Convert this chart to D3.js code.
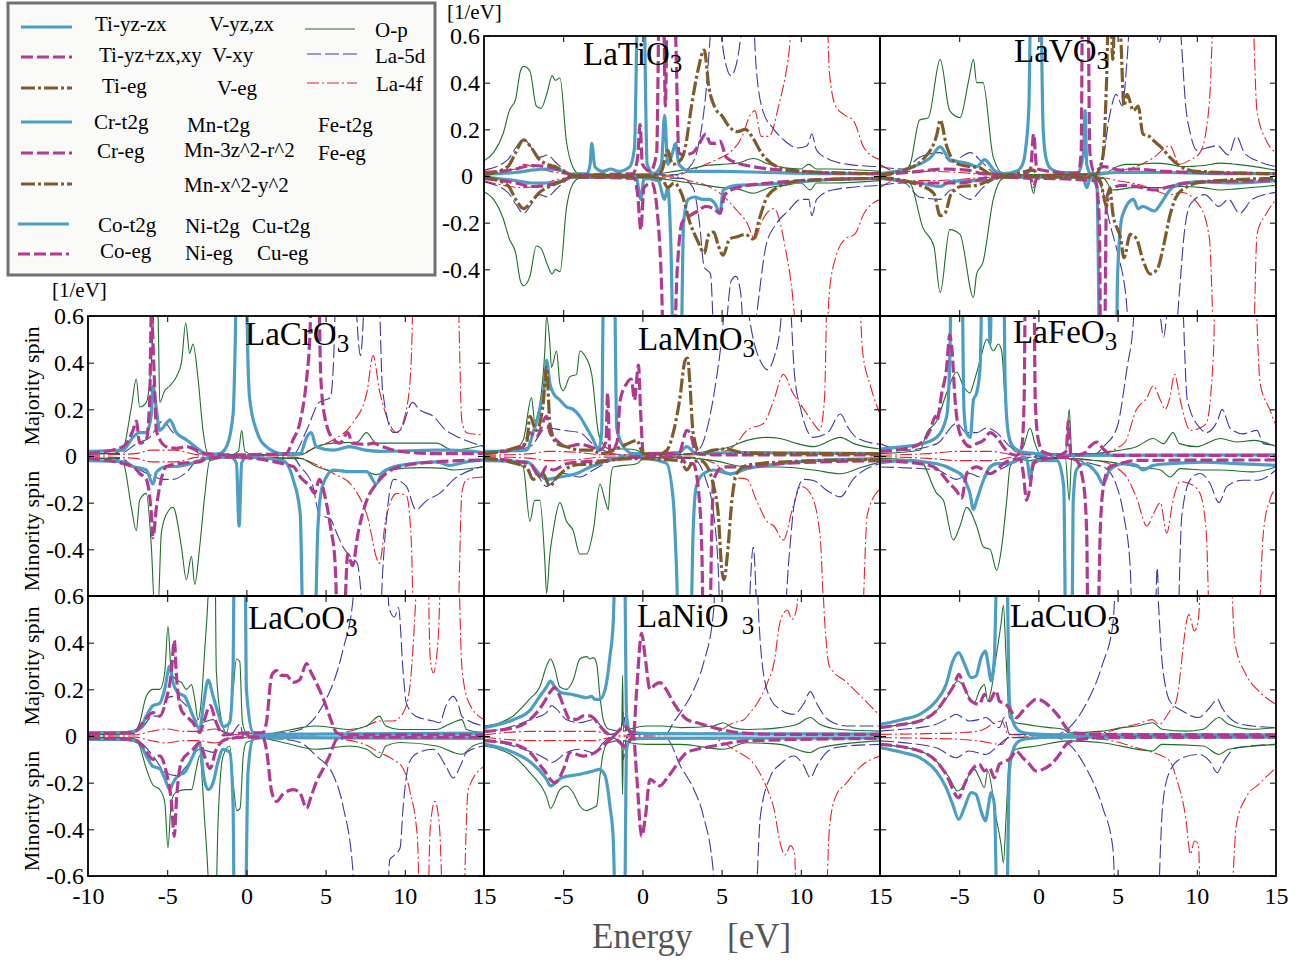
<!DOCTYPE html>
<html>
<head>
<meta charset="utf-8">
<script src="https://cdnjs.cloudflare.com/ajax/libs/d3/7.8.5/d3.min.js"></script>
<style>
  body { margin: 0; background: #fff; }
  svg text { font-family: "Liberation Serif", "Times New Roman", serif; }
</style>
</head>
<body>
<svg id="chart" width="1304" height="962"></svg>
<script>
// ---- values: [energy eV, DOS 1/eV]; minority spin stored negative ----
var energyTicks = [-10, -5, 0, 5, 10, 15];
var dosTicks = [0.6, 0.4, 0.2, 0, -0.2, -0.4, -0.6];

// LaTiO3
var tiOpUp = [[-10,0.065],[-9.4,0.1],[-8.8,0.18],[-8.4,0.28],[-8,0.33],[-7.7,0.45],[-7.5,0.47],[-7.1,0.45],[-6.7,0.3],[-6.4,0.29],[-6,0.36],[-5.7,0.43],[-5.5,0.41],[-5.2,0.42],[-4.8,0.15],[-4.4,0.04],[-4,0.01],[-2,0.006],[0,0.008],[1,0.01],[2,0.02],[3,0.03],[4,0.045],[5,0.05],[6,0.055],[7,0.075],[8,0.05],[9,0.035],[10,0.03],[10.5,0.05],[11,0.03],[12,0.03],[15,0.02]];
var tiOpDn = [[-10,-0.067],[-9.4,-0.1],[-8.8,-0.18],[-8.4,-0.27],[-8,-0.33],[-7.7,-0.45],[-7.5,-0.47],[-7.1,-0.43],[-6.7,-0.3],[-6.4,-0.31],[-6,-0.38],[-5.7,-0.42],[-5.5,-0.4],[-5.2,-0.41],[-4.8,-0.14],[-4.4,-0.035],[-4,-0.01],[-2,-0.006],[0,-0.008],[1,-0.01],[2,-0.02],[3,-0.03],[4,-0.04],[5,-0.05],[6,-0.055],[7,-0.074],[8,-0.05],[9,-0.04],[10,-0.03],[10.6,-0.06],[11,-0.03],[12,-0.03],[15,-0.02]];
var tiLa5dUp = [[-10,0.025],[-8.5,0.07],[-8,0.12],[-7.5,0.16],[-7,0.12],[-6.5,0.08],[-6,0.09],[-5.5,0.06],[-5,0.03],[-4.5,0.005],[2,0.005],[3,0.04],[3.5,0.12],[4,0.35],[4.4,0.7],[4.7,0.9],[5,0.6],[5.3,0.47],[5.6,0.43],[6,0.5],[6.4,0.7],[6.8,0.9],[7.2,0.45],[7.6,0.28],[8.3,0.2],[9,0.15],[9.8,0.12],[10.4,0.13],[10.7,0.18],[11,0.11],[12,0.065],[13,0.05],[15,0.04]];
var tiLa5dDn = [[-10,-0.025],[-8.5,-0.07],[-8,-0.12],[-7.5,-0.16],[-7,-0.12],[-6.5,-0.08],[-6,-0.09],[-5.5,-0.06],[-5,-0.03],[-4.5,-0.005],[2.5,-0.01],[3.2,-0.05],[3.6,-0.2],[3.9,-0.39],[4.3,-0.42],[4.6,-0.8],[5.2,-0.7],[5.6,-0.45],[5.9,-0.43],[6.2,-0.5],[6.6,-0.9],[7.2,-0.6],[7.8,-0.3],[8.4,-0.21],[9.2,-0.15],[10,-0.1],[10.5,-0.1],[10.7,-0.17],[11,-0.1],[12,-0.06],[15,-0.04]];
var tiLa4fUp = [[-10,0.02],[-8,0.03],[-7.5,0.05],[-6.5,0.03],[-5,0.01],[-4,0.003],[2,0.003],[3,0.02],[4,0.05],[5,0.08],[5.5,0.1],[6.3,0.17],[6.8,0.26],[7.1,0.28],[7.5,0.17],[8,0.17],[8.6,0.3],[9.2,0.5],[9.7,0.8],[11.6,0.8],[11.8,0.45],[12.2,0.3],[12.8,0.26],[13.3,0.24],[14,0.12],[15,0.07]];
var tiLa4fDn = [[-10,-0.02],[-7.5,-0.05],[-5,-0.01],[-4,-0.003],[2,-0.003],[3,-0.02],[4,-0.04],[5,-0.08],[6,-0.15],[6.6,-0.2],[7.1,-0.27],[7.5,-0.2],[8.3,-0.14],[9,-0.3],[9.6,-0.6],[9.9,-0.9],[11.5,-0.9],[11.8,-0.5],[12.2,-0.35],[12.8,-0.27],[13.4,-0.25],[14,-0.16],[15,-0.1]];
var tiD1Up = [[-10,0.008],[-8,0.015],[-7,0.025],[-6,0.03],[-5,0.02],[-4.5,0.008],[-3.5,0.01],[-3.3,0.05],[-3.2,0.14],[-3,0.04],[-2.5,0.02],[-2,0.03],[-1.5,0.02],[-0.8,0.04],[-0.5,0.12],[-0.25,0.9],[0.05,0.9],[0.3,0.05],[0.7,0.01],[1.2,0.05],[1.4,0.26],[1.6,0.05],[1.9,0.1],[2.1,0.14],[2.3,0.05],[3,0.02],[5,0.02],[8,0.015],[12,0.01],[15,0.01]];
var tiD1Dn = [[-10,-0.005],[-8,-0.02],[-7,-0.03],[-6,-0.03],[-5,-0.02],[-4.5,-0.005],[-0.4,-0.005],[-0.1,-0.1],[0.1,-0.01],[1,-0.02],[1.4,-0.1],[1.6,-0.05],[1.8,-0.3],[2,-0.9],[2.4,-0.9],[2.6,-0.2],[2.9,-0.1],[3.3,-0.09],[3.8,-0.1],[4.2,-0.1],[4.6,-0.12],[4.9,-0.16],[5.1,-0.06],[6,-0.04],[8,-0.035],[10,-0.025],[12,-0.015],[15,-0.01]];
var tiD2Up = [[-10,0.01],[-8,0.03],[-7,0.045],[-6,0.04],[-5,0.02],[-4.5,0.005],[-0.6,0.01],[-0.3,0.08],[-0.15,0.22],[0,0.05],[0.5,0.02],[0.9,0.1],[1.1,0.9],[1.3,0.9],[1.45,0.3],[1.6,0.9],[1.9,0.9],[2.1,0.6],[2.3,0.1],[2.6,0.09],[3.2,0.1],[3.6,0.14],[4,0.18],[4.3,0.14],[4.6,0.14],[4.9,0.15],[5.3,0.08],[6,0.055],[7,0.04],[8,0.03],[10,0.02],[12,0.012],[15,0.01]];
var tiD2Dn = [[-10,-0.01],[-8,-0.03],[-7,-0.045],[-6,-0.04],[-5,-0.02],[-4.5,-0.005],[-0.5,-0.01],[-0.3,-0.08],[-0.1,-0.23],[0.1,-0.05],[0.6,-0.03],[1,-0.2],[1.2,-0.45],[1.4,-0.9],[1.9,-0.9],[2.2,-0.4],[2.5,-0.2],[3,-0.17],[3.5,-0.15],[4,-0.13],[4.5,-0.14],[4.9,-0.16],[5.2,-0.08],[6,-0.05],[8,-0.03],[10,-0.02],[15,-0.01]];
var tiD3Up = [[-10,0.005],[-8.5,0.04],[-8,0.1],[-7.5,0.155],[-7,0.12],[-6.5,0.07],[-6,0.05],[-5.5,0.04],[-5,0.02],[-4.5,0.003],[0.5,0.003],[1.2,0.02],[1.6,0.11],[1.9,0.05],[2.3,0.06],[2.7,0.12],[3.1,0.3],[3.5,0.45],[3.9,0.54],[4.2,0.38],[4.6,0.29],[5,0.26],[5.5,0.21],[6,0.19],[6.5,0.2],[7,0.16],[7.5,0.1],[8.5,0.04],[10,0.02],[15,0.01]];
var tiD3Dn = [[-10,-0.005],[-8.5,-0.04],[-8,-0.1],[-7.5,-0.14],[-7,-0.11],[-6.5,-0.07],[-6,-0.05],[-5,-0.02],[-4.5,-0.003],[0.5,-0.003],[1.3,-0.02],[1.6,-0.05],[2,-0.03],[2.5,-0.08],[3,-0.2],[3.5,-0.28],[3.9,-0.33],[4.2,-0.25],[4.5,-0.24],[4.8,-0.3],[5.1,-0.34],[5.5,-0.27],[6,-0.26],[6.5,-0.25],[7,-0.27],[7.4,-0.18],[7.8,-0.1],[8.5,-0.05],[10,-0.02],[15,-0.01]];

// LaVO3
var vOpUp = [[-10,0.01],[-8.6,0.015],[-8.1,0.05],[-7.5,0.24],[-6.95,0.25],[-6.2,0.5],[-5.6,0.28],[-4.95,0.25],[-4.4,0.41],[-4.1,0.5],[-3.9,0.4],[-3.5,0.4],[-2.85,0.08],[-2.2,0.01],[-1,0.005],[4.1,0.01],[4.95,0.04],[5.5,0.05],[6.2,0.05],[7.3,0.055],[8.3,0.05],[9.15,0.04],[10.4,0.045],[11.5,0.055],[12.5,0.05],[15,0.025]];
var vOpDn = [[-10,-0.01],[-8.6,-0.015],[-8.1,-0.03],[-7.3,-0.22],[-6.6,-0.3],[-6.2,-0.5],[-5.6,-0.23],[-4.95,-0.25],[-4.1,-0.52],[-3.9,-0.42],[-3.5,-0.37],[-2.85,-0.1],[-2.2,-0.01],[-0.6,-0.005],[-0.3,-0.075],[-0.1,-0.005],[4.1,-0.01],[4.7,-0.06],[6,-0.05],[8,-0.05],[9,-0.045],[10.4,-0.05],[11.5,-0.06],[12.5,-0.055],[15,-0.04]];
var vLa5dUp = [[-10,0.04],[-8.5,0.03],[-7.5,0.08],[-6.2,0.1],[-5.5,0.06],[-4.3,0.1],[-3.5,0.055],[-2.7,0.01],[-2,0.003],[3.5,0.01],[4,0.05],[4.5,0.26],[4.9,0.35],[5.3,0.3],[5.6,0.5],[6,0.9],[7.2,0.8],[7.6,0.57],[8,0.7],[8.6,0.9],[9,0.6],[9.3,0.3],[9.6,0.18],[10,0.11],[10.6,0.12],[11.3,0.13],[12,0.09],[12.5,0.17],[13,0.1],[14,0.06],[15,0.04]];
var vLa5dDn = [[-10,-0.04],[-8.5,-0.03],[-7.5,-0.09],[-6.2,-0.1],[-5.5,-0.06],[-4.3,-0.1],[-3.5,-0.05],[-2.7,-0.01],[-2,-0.003],[3.5,-0.01],[4,-0.05],[4.5,-0.2],[5,-0.33],[5.5,-0.5],[6,-0.9],[8.4,-0.9],[8.9,-0.5],[9.2,-0.25],[9.6,-0.12],[10.5,-0.08],[11.4,-0.13],[12,-0.1],[12.7,-0.16],[13.5,-0.1],[15,-0.07]];
var vLa4fUp = [[-10,0.05],[-9,0.02],[-7,0.02],[-5,0.015],[-3,0.005],[3.5,0.003],[5,0.02],[6.5,0.05],[7.3,0.08],[8.3,0.13],[8.9,0.05],[9.6,0.07],[10.2,0.1],[10.6,0.2],[10.8,0.32],[11.2,0.9],[13.4,0.9],[13.8,0.28],[14.4,0.15],[15,0.1]];
var vLa4fDn = [[-10,-0.05],[-9,-0.02],[-7,-0.02],[-5,-0.015],[-3,-0.005],[3.5,-0.003],[5,-0.02],[6.5,-0.04],[7.3,-0.06],[8.3,-0.08],[9,-0.07],[10.2,-0.13],[10.8,-0.27],[11.2,-0.9],[13.5,-0.9],[13.8,-0.25],[14.4,-0.16],[15,-0.1]];
var vD1Up = [[-10,0.01],[-7.9,0.04],[-6.8,0.08],[-6.2,0.125],[-5.6,0.07],[-4.5,0.055],[-3.9,0.04],[-3.4,0.07],[-2.8,0.025],[-2.2,0.01],[-1.4,0.02],[-1,0.05],[-0.8,0.12],[-0.6,0.3],[-0.45,0.9],[0.1,0.9],[0.3,0.2],[0.5,0.07],[0.8,0.03],[1.5,0.015],[2.5,0.015],[2.85,0.1],[2.95,0.28],[3.05,0.05],[3.3,0.01],[5,0.015],[8,0.015],[12,0.01],[15,0.01]];
var vD1Dn = [[-10,-0.01],[-7.5,-0.03],[-6.2,-0.045],[-5.6,-0.025],[-4.5,-0.02],[-3.3,-0.02],[-2.5,-0.005],[2.8,-0.005],[3.05,-0.05],[3.3,-0.005],[3.7,-0.05],[3.9,-0.9],[4.9,-0.9],[5,-0.42],[5.3,-0.17],[6,-0.1],[6.3,-0.14],[6.6,-0.13],[7.3,-0.15],[7.9,-0.1],[8.3,-0.06],[9.1,-0.03],[10.4,-0.025],[12.5,-0.03],[15,-0.02]];
var vD2Up = [[-10,0.005],[-7.5,0.02],[-6,0.03],[-4.5,0.025],[-3.5,0.01],[-1,0.005],[-0.5,0.03],[-0.3,0.18],[-0.1,0.03],[2.5,0.01],[2.7,0.1],[2.8,0.9],[3.1,0.9],[3.25,0.1],[3.5,0.02],[4.1,0.04],[5.2,0.025],[6,0.03],[8,0.02],[10,0.015],[15,0.01]];
var vD2Dn = [[-10,-0.005],[-7.5,-0.03],[-5,-0.03],[-4,-0.02],[-3,-0.005],[-0.5,-0.01],[-0.3,-0.045],[-0.1,-0.01],[3.6,-0.02],[3.85,-0.2],[3.95,-0.9],[4.15,-0.9],[4.3,-0.1],[4.5,-0.06],[5.3,-0.04],[6.2,-0.045],[7.3,-0.06],[8.3,-0.045],[9.4,-0.03],[10.4,-0.025],[15,-0.02]];
var vD3Up = [[-10,0.005],[-7.9,0.04],[-7.3,0.07],[-6.4,0.18],[-6.2,0.24],[-5.8,0.13],[-5.2,0.055],[-4.3,0.04],[-3.7,0.035],[-3.1,0.01],[-2,0.003],[-0.3,0.025],[0,0.003],[3.6,0.005],[3.9,0.04],[4.1,0.1],[4.3,0.4],[4.5,0.9],[4.7,0.5],[4.9,0.9],[5.2,0.6],[5.4,0.3],[5.6,0.35],[6,0.28],[6.3,0.3],[6.6,0.18],[7,0.17],[7.3,0.15],[7.8,0.12],[8.3,0.08],[9,0.04],[10,0.02],[15,0.01]];
var vD3Dn = [[-10,-0.005],[-7.3,-0.045],[-6.6,-0.075],[-6.2,-0.17],[-5.9,-0.16],[-5.5,-0.075],[-4.9,-0.045],[-3.9,-0.04],[-3.3,-0.025],[-2.7,-0.01],[-2,-0.003],[3.6,-0.005],[3.9,-0.02],[4.3,-0.13],[4.5,-0.05],[4.7,-0.16],[5.2,-0.27],[5.4,-0.35],[5.8,-0.25],[6.2,-0.27],[6.6,-0.36],[7.05,-0.42],[7.5,-0.4],[7.9,-0.3],[8.3,-0.17],[8.7,-0.09],[9.4,-0.045],[10.4,-0.025],[15,-0.01]];

// LaCrO3
var crOpUp = [[-10,0.01],[-8.5,0.01],[-7.8,0.03],[-7.26,0.21],[-6.95,0.33],[-6.74,0.21],[-6.32,0.23],[-6,0.4],[-5.79,0.65],[-5.58,0.6],[-5.47,0.23],[-5.16,0.28],[-4.84,0.3],[-4.42,0.34],[-4.1,0.4],[-3.83,0.57],[-3.58,0.44],[-3.37,0.48],[-3.05,0.33],[-2.74,0.11],[-2.42,0.01],[-1,0.005],[-0.5,0.02],[-0.3,0.11],[-0.1,0.02],[0.5,0.005],[3.4,0.005],[4.42,0.04],[5.5,0.055],[7,0.06],[7.58,0.1],[8.2,0.055],[10,0.055],[12,0.055],[13.05,0.025],[15,0.047]];
var crOpDn = [[-10,-0.01],[-8.5,-0.01],[-7.8,-0.025],[-7.26,-0.22],[-6.95,-0.32],[-6.74,-0.19],[-6.32,-0.16],[-6,-0.39],[-5.79,-0.65],[-5.58,-0.65],[-5.37,-0.33],[-5.05,-0.25],[-4.63,-0.22],[-4.1,-0.39],[-3.79,-0.53],[-3.47,-0.43],[-3.26,-0.55],[-2.95,-0.39],[-2.63,-0.17],[-2.32,-0.02],[-1,-0.005],[-0.3,-0.01],[3.4,-0.01],[4.42,-0.045],[5.5,-0.065],[7.58,-0.067],[8.2,-0.08],[9,-0.06],[11,-0.05],[12.5,-0.053],[13.05,-0.06],[15,-0.045]];
var crLa5dUp = [[-10,0.01],[-8,0.01],[-7,0.05],[-6.1,0.08],[-5.26,0.15],[-4.63,0.1],[-3.79,0.07],[-2.95,0.01],[-2,0.003],[2.5,0.005],[3,0.01],[3.8,0.11],[4.6,0.23],[5.3,0.25],[5.5,0.4],[5.7,0.8],[6.7,0.8],[7.2,0.43],[7.6,0.8],[8.3,0.8],[8.6,0.28],[9.3,0.1],[9.7,0.11],[10.5,0.23],[10.9,0.2],[11.8,0.17],[12.6,0.11],[13.1,0.09],[15,0.04]];
var crLa5dDn = [[-10,-0.01],[-8,-0.01],[-7,-0.05],[-6.1,-0.08],[-5.26,-0.1],[-4.63,-0.1],[-3.79,-0.07],[-2.95,-0.01],[-2,-0.003],[3,-0.01],[3.4,-0.045],[4.2,-0.13],[4.6,-0.25],[5.3,-0.27],[5.7,-0.33],[6.1,-0.39],[6.7,-0.44],[7,-0.46],[7.6,-0.8],[8.4,-0.8],[8.6,-0.5],[9.3,-0.1],[10.1,-0.13],[10.7,-0.23],[11.4,-0.19],[12.2,-0.16],[13.1,-0.1],[15,-0.045]];
var crLa4fUp = [[-10,0.003],[-7,0.01],[-6,0.025],[-4.5,0.025],[-3,0.005],[3,0.005],[4.5,0.04],[5.5,0.07],[6.7,0.14],[7.6,0.27],[8,0.43],[8.4,0.28],[8.8,0.18],[9.5,0.1],[10.1,0.2],[10.4,0.4],[10.6,0.8],[13.3,0.8],[13.6,0.15],[13.9,0.1],[15,0.09]];
var crLa4fDn = [[-10,-0.003],[-7,-0.01],[-6,-0.025],[-4.5,-0.025],[-3,-0.005],[3,-0.005],[4.5,-0.04],[5.5,-0.075],[6.7,-0.13],[7.6,-0.25],[8.4,-0.46],[8.8,-0.27],[9.5,-0.16],[10.1,-0.17],[10.4,-0.35],[10.6,-0.8],[13.3,-0.8],[13.6,-0.16],[13.9,-0.1],[15,-0.09]];
var crD1Up = [[-10,0.02],[-7.8,0.025],[-7.16,0.08],[-6.74,0.1],[-6.32,0.1],[-6,0.18],[-5.9,0.3],[-5.68,0.2],[-5.47,0.11],[-5.05,0.14],[-4.84,0.155],[-4.42,0.1],[-3.79,0.07],[-2.95,0.025],[-2.5,0.005],[-1.7,0.01],[-1.26,0.04],[-0.84,0.18],[-0.7,0.5],[-0.6,0.9],[-0.05,0.9],[0.1,0.4],[0.2,0.25],[0.63,0.11],[1.26,0.04],[2.3,0.01],[3.4,0.01],[3.8,0.08],[4.1,0.1],[4.4,0.04],[5.5,0.025],[6.5,0.04],[7.5,0.025],[8.5,0.02],[12,0.025],[12.8,0.025],[15,0.015]];
var crD1Dn = [[-10,-0.02],[-7.8,-0.025],[-7.16,-0.045],[-6.32,-0.06],[-5.9,-0.12],[-5.68,-0.07],[-5.05,-0.045],[-4.42,-0.045],[-3.37,-0.03],[-2.5,-0.01],[-1,-0.005],[-0.63,-0.03],[-0.46,-0.3],[-0.3,-0.03],[0,-0.005],[2.3,-0.02],[2.95,-0.1],[3.4,-0.25],[3.6,-0.8],[4.3,-0.8],[4.5,-0.33],[4.7,-0.16],[5.05,-0.09],[5.5,-0.06],[6.5,-0.067],[7.6,-0.067],[8.2,-0.12],[8.6,-0.07],[9.7,-0.04],[12,-0.025],[12.8,-0.04],[13.9,-0.025],[15,-0.017]];
var crD2Up = [[-10,0.01],[-7.8,0.04],[-7.16,0.11],[-6.95,0.15],[-6.74,0.055],[-6.32,0.07],[-6.1,0.25],[-6,0.62],[-5.85,0.4],[-5.68,0.11],[-5.47,0.07],[-5.05,0.04],[-4.42,0.033],[-3.79,0.04],[-3.16,0.025],[-2.5,0.01],[-1,0.005],[2.5,0.01],[2.95,0.07],[3.4,0.15],[3.8,0.33],[4,0.5],[4.2,0.9],[4.5,0.9],[4.7,0.33],[5,0.15],[5.5,0.07],[5.9,0.055],[6.4,0.1],[6.7,0.055],[7.6,0.05],[8,0.055],[8.6,0.04],[9.7,0.02],[12,0.01],[15,0.01]];
var crD2Dn = [[-10,-0.01],[-7.16,-0.045],[-6.74,-0.075],[-6.32,-0.1],[-6,-0.25],[-5.9,-0.35],[-5.68,-0.22],[-5.47,-0.13],[-5.05,-0.045],[-4,-0.03],[-2.95,-0.025],[-2.5,-0.01],[-1,-0.005],[2.95,-0.045],[3.4,-0.09],[4,-0.13],[4.3,-0.16],[4.6,-0.1],[4.95,-0.17],[5.3,-0.3],[5.6,-0.46],[5.8,-0.8],[6.1,-0.8],[6.4,-0.42],[6.7,-0.47],[7.05,-0.33],[7.6,-0.19],[8.2,-0.12],[8.8,-0.075],[9.7,-0.045],[12,-0.025],[15,-0.017]];

// LaMnO3
var mnOpUp = [[-10,0.015],[-8.16,0.025],[-7.53,0.067],[-7,0.25],[-6.8,0.15],[-6.48,0.22],[-6.16,0.45],[-6.05,0.6],[-5.84,0.48],[-5.74,0.38],[-5.42,0.45],[-5.21,0.31],[-5,0.28],[-4.58,0.34],[-4.16,0.35],[-3.95,0.45],[-3.63,0.43],[-3.2,0.35],[-2.78,0.1],[-2.47,0.05],[-2.05,0.03],[-0.99,0.03],[-0.36,0.025],[0.06,0.01],[2,0.005],[4.5,0.025],[5.55,0.04],[6.6,0.067],[7.87,0.08],[8.7,0.075],[9.77,0.053],[10.8,0.04],[12.5,0.08],[13.35,0.053],[15,0.03]];
var mnOpDn = [[-10,-0.015],[-8.16,-0.025],[-7.53,-0.047],[-7.1,-0.28],[-6.8,-0.19],[-6.48,-0.19],[-6.16,-0.45],[-6.05,-0.59],[-5.84,-0.42],[-5.63,-0.32],[-5.21,-0.2],[-4.79,-0.28],[-4.37,-0.32],[-3.95,-0.42],[-3.52,-0.42],[-3.1,-0.32],[-2.68,-0.12],[-2.36,-0.19],[-2.15,-0.23],[-2.05,-0.13],[-1.84,-0.047],[-0.36,-0.033],[0.06,-0.01],[2,-0.005],[4.5,-0.02],[6.6,-0.047],[8.7,-0.047],[10.8,-0.06],[12.5,-0.076],[13.9,-0.047],[15,-0.026]];
var mnLa5dUp = [[-10,0.01],[-7.1,0.04],[-6.05,0.12],[-5,0.11],[-3.95,0.1],[-3.1,0.05],[-2.47,0.025],[-1.8,0.01],[-1,0.003],[3,0.01],[3.6,0.03],[4.2,0.15],[4.6,0.3],[5,0.5],[5.4,0.8],[6,0.9],[6.5,0.7],[7,0.5],[7.5,0.4],[7.9,0.37],[8.3,0.42],[8.7,0.55],[9,0.8],[9.3,0.7],[9.6,0.35],[10,0.2],[10.8,0.08],[11.7,0.1],[12.5,0.18],[13,0.12],[13.5,0.08],[15,0.05]];
var mnLa5dDn = [[-10,-0.01],[-7.1,-0.03],[-6.05,-0.13],[-5,-0.075],[-3.95,-0.09],[-3.1,-0.06],[-2,-0.02],[-1,-0.005],[3,-0.01],[3.4,-0.02],[4,-0.1],[4.5,-0.25],[4.8,-0.5],[5,-0.9],[6.5,-0.9],[7,-0.39],[7.4,-0.9],[8.7,-0.9],[9.3,-0.4],[9.6,-0.2],[10.2,-0.1],[10.8,-0.105],[11.7,-0.15],[12.5,-0.175],[13.3,-0.1],[15,-0.033]];
var mnLa4fUp = [[-10,0.003],[-7,0.01],[-6,0.02],[-4,0.015],[-2.5,0.005],[3,0.005],[4.5,0.01],[5.75,0.04],[6.6,0.11],[7.65,0.14],[8.3,0.24],[8.9,0.35],[9.5,0.27],[10.2,0.2],[10.8,0.14],[11.2,0.11],[11.5,0.25],[11.7,0.8],[13.6,0.8],[13.9,0.45],[14.4,0.3],[15,0.18]];
var mnLa4fDn = [[-10,-0.003],[-7,-0.01],[-6,-0.02],[-4,-0.015],[-2.5,-0.005],[3,-0.005],[4.5,-0.03],[5.75,-0.09],[6.6,-0.1],[7.2,-0.19],[7.87,-0.28],[8.3,-0.3],[8.9,-0.36],[9.5,-0.22],[10,-0.13],[10.6,-0.16],[11.2,-0.33],[11.6,-0.8],[13.8,-0.8],[14.2,-0.25],[15,-0.14]];
var mnD1Up = [[-10,0.02],[-7.32,0.025],[-6.9,0.1],[-6.48,0.2],[-6.16,0.32],[-6.05,0.41],[-5.84,0.31],[-5.63,0.27],[-5.21,0.24],[-4.79,0.21],[-4.37,0.2],[-3.95,0.17],[-3.52,0.12],[-3.1,0.07],[-2.78,0.025],[-2.57,0.1],[-2.43,0.9],[-1.8,0.9],[-1.62,0.12],[-1.2,0.04],[-0.57,0.01],[0.06,0.01],[2.3,0.015],[2.8,0.04],[3.4,0.01],[6,0.015],[15,0.01]];
var mnD1Dn = [[-10,-0.02],[-7.3,-0.025],[-6.05,-0.1],[-5.2,-0.09],[-4.16,-0.075],[-3.3,-0.047],[-2.7,-0.033],[-2,-0.012],[-0.6,-0.005],[1.5,-0.03],[1.95,-0.19],[2.15,-0.48],[2.35,-0.9],[3,-0.9],[3.2,-0.33],[3.4,-0.13],[3.85,-0.076],[4.5,-0.06],[5.55,-0.076],[6.6,-0.054],[8.7,-0.033],[10.8,-0.02],[15,-0.011]];
var mnD2Up = [[-10,0.01],[-7.53,0.04],[-7.1,0.1],[-6.7,0.08],[-6.05,0.17],[-5.84,0.1],[-5.42,0.067],[-4.79,0.04],[-3.95,0.05],[-3.3,0.04],[-2.7,0.025],[-2.3,0.06],[-2.2,0.27],[-2.05,0.01],[-1.6,0.06],[-1.4,0.24],[-1,0.31],[-0.7,0.33],[-0.5,0.24],[-0.25,0.39],[-0.1,0.17],[0.06,0.01],[2.3,0.01],[2.8,0.11],[3,0.1],[3.4,0.01],[4.5,0.005],[15,0.005]];
var mnD2Dn = [[-10,-0.01],[-7.1,-0.033],[-6.48,-0.09],[-6.05,-0.047],[-5.63,-0.06],[-4.79,-0.033],[-3.95,-0.026],[-2.3,-0.02],[-0.36,-0.005],[2.4,-0.005],[2.8,-0.033],[3.2,-0.033],[3.6,-0.19],[3.75,-0.4],[3.9,-0.9],[4.2,-0.9],[4.4,-0.26],[4.5,-0.1],[5.1,-0.047],[6.6,-0.047],[8.7,-0.033],[15,-0.02]];
var mnD3Up = [[-10,0.01],[-7.32,0.053],[-7.1,0.17],[-6.7,0.11],[-6.27,0.22],[-6.05,0.38],[-5.84,0.14],[-5.42,0.053],[-4.79,0.04],[-3.95,0.025],[-3.1,0.025],[-2.7,0.01],[-1,0.05],[-0.36,0.067],[0.06,0.01],[1,0.005],[1.55,0.025],[1.95,0.1],[2.35,0.24],[2.7,0.41],[2.85,0.42],[3,0.31],[3.2,0.1],[3.65,0.01],[4.5,0.025],[5.3,0.03],[6.1,0.017],[7.6,0.01],[15,0.01]];
var mnD3Dn = [[-10,-0.01],[-7.32,-0.047],[-6.9,-0.1],[-6.27,-0.076],[-5.84,-0.13],[-5.5,-0.1],[-4.9,-0.06],[-4.37,-0.04],[-3.1,-0.033],[-2.3,-0.02],[-0.36,-0.011],[2.4,-0.02],[2.8,-0.06],[3.1,-0.033],[3.65,-0.02],[4.1,-0.047],[4.5,-0.13],[4.8,-0.26],[5,-0.48],[5.15,-0.53],[5.37,-0.42],[5.65,-0.19],[5.95,-0.076],[6.6,-0.04],[8.7,-0.026],[15,-0.015]];

// LaFeO3
var feOpUp = [[-10,0.01],[-7.47,0.025],[-7.05,0.1],[-6.42,0.15],[-5.79,0.27],[-5.16,0.36],[-4.74,0.3],[-4.32,0.27],[-4.1,0.31],[-3.68,0.41],[-3.26,0.5],[-2.84,0.45],[-2.53,0.48],[-2.32,0.45],[-2.1,0.24],[-1.79,0.053],[-1.37,0.017],[-0.95,0.04],[-0.53,0.12],[-0.21,0.053],[0.1,0.01],[1.7,0.01],[1.95,0.2],[2.1,0.01],[3.5,0.01],[5.15,0.025],[6.2,0.04],[7.25,0.075],[7.9,0.053],[8.5,0.1],[8.9,0.053],[10,0.04],[11.5,0.075],[12.5,0.06],[13.6,0.067],[15,0.04]];
var feOpDn = [[-10,-0.01],[-7.47,-0.02],[-6.42,-0.16],[-6,-0.19],[-5.37,-0.36],[-4.95,-0.3],[-4.53,-0.22],[-3.9,-0.3],[-3.47,-0.39],[-3.05,-0.4],[-2.63,-0.49],[-2.32,-0.39],[-2,-0.19],[-1.79,-0.047],[-1.37,-0.012],[-0.5,-0.02],[0,-0.01],[1.7,-0.01],[1.95,-0.19],[2.1,-0.01],[3.7,-0.02],[5.15,-0.033],[6.2,-0.047],[7.7,-0.06],[8.3,-0.09],[8.95,-0.054],[10.4,-0.06],[11.5,-0.06],[13.6,-0.068],[15,-0.047]];
var feLa5dUp = [[-10,0.053],[-8.5,0.025],[-6.4,0.053],[-5.16,0.14],[-4.53,0.1],[-3.9,0.1],[-3.26,0.12],[-2.63,0.1],[-1.79,0.04],[-0.95,0.01],[0,0.003],[3.5,0.005],[4.1,0.04],[4.95,0.12],[5.6,0.38],[6,0.58],[6.2,0.9],[7.4,0.8],[7.7,0.6],[7.9,0.51],[8.1,0.6],[8.5,0.9],[9,0.8],[9.4,0.24],[10.2,0.12],[10.6,0.1],[11.3,0.15],[11.6,0.2],[12.1,0.12],[12.9,0.095],[13.8,0.11],[14.2,0.053],[15,0.046]];
var feLa5dDn = [[-10,-0.047],[-6.4,-0.06],[-5.16,-0.1],[-4.32,-0.075],[-3.68,-0.09],[-3.05,-0.075],[-2.1,-0.047],[-1.37,-0.02],[0,-0.003],[4.1,-0.047],[4.95,-0.13],[5.4,-0.26],[5.8,-0.48],[6,-0.9],[7.3,-0.9],[7.5,-0.48],[7.7,-0.9],[8.7,-0.9],[9.05,-0.26],[9.6,-0.1],[10.2,-0.075],[10.85,-0.12],[11.4,-0.2],[11.9,-0.13],[12.9,-0.104],[13.8,-0.104],[15,-0.06]];
var feLa4fUp = [[-10,0.003],[-7,0.01],[-5,0.02],[-3,0.02],[-1.5,0.005],[3.7,0.01],[5.4,0.053],[6.2,0.2],[6.85,0.25],[7.25,0.3],[7.7,0.24],[8,0.2],[8.3,0.25],[8.6,0.35],[8.95,0.24],[9.6,0.11],[10.2,0.12],[10.6,0.14],[11.05,0.44],[11.2,0.8],[13.6,0.8],[14,0.31],[14.6,0.2],[15,0.13]];
var feLa4fDn = [[-10,-0.003],[-7,-0.01],[-5,-0.02],[-3,-0.02],[-1.5,-0.005],[3.7,-0.02],[5.4,-0.076],[6.2,-0.18],[6.85,-0.3],[7.25,-0.25],[7.7,-0.2],[8.1,-0.33],[8.5,-0.19],[8.95,-0.11],[9.6,-0.12],[10.2,-0.16],[10.6,-0.33],[10.85,-0.8],[13.8,-0.8],[14.2,-0.33],[14.6,-0.19],[15,-0.14]];
var feD1Up = [[-10,0.03],[-8.5,0.04],[-7.47,0.05],[-6.42,0.08],[-5.79,0.17],[-5.6,0.4],[-5.45,0.9],[-4.85,0.9],[-4.7,0.2],[-4.53,0.097],[-4.3,0.08],[-4.1,0.24],[-3.9,0.27],[-3.68,0.38],[-3.5,0.9],[-3.2,0.9],[-3.05,0.48],[-2.9,0.9],[-2.2,0.9],[-2.1,0.31],[-1.9,0.097],[-1.6,0.04],[-1,0.017],[0,0.01],[2,0.003],[15,0.005]];
var feD1Dn = [[-10,-0.03],[-8.5,-0.02],[-6.4,-0.033],[-5.37,-0.06],[-4.74,-0.09],[-4.53,-0.12],[-4.32,-0.16],[-4.1,-0.23],[-3.9,-0.19],[-3.47,-0.104],[-3.05,-0.047],[-2.6,-0.033],[-2.1,-0.033],[-1.37,-0.02],[-0.95,-0.005],[-0.7,-0.02],[-0.53,-0.1],[-0.3,-0.02],[0,-0.02],[1.2,-0.02],[1.6,-0.13],[1.75,-0.9],[2.1,-0.9],[2.2,-0.19],[2.4,-0.06],[2.85,-0.033],[3.7,-0.076],[4.1,-0.12],[4.5,-0.06],[5.4,-0.033],[6.2,-0.04],[6.6,-0.06],[7.25,-0.04],[8.3,-0.033],[10.4,-0.026],[12.5,-0.033],[15,-0.04]];
var feD2Up = [[-10,0.02],[-8.5,0.03],[-7.47,0.053],[-6.84,0.11],[-6.5,0.17],[-6.42,0.15],[-6.1,0.27],[-5.79,0.38],[-5.6,0.52],[-5.45,0.45],[-5.26,0.24],[-5.05,0.12],[-4.74,0.067],[-4.32,0.04],[-3.9,0.053],[-3.47,0.067],[-3.05,0.1],[-2.63,0.08],[-2.21,0.04],[-1.79,0.01],[-1.37,0.003],[-1.05,0.04],[-0.9,0.24],[-0.8,0.9],[-0.3,0.9],[-0.2,0.24],[0,0.067],[0.3,0.017],[1.2,0.003],[1.75,0.02],[1.9,0.15],[2.05,0.003],[2.85,0.01],[3.25,0.04],[3.7,0.06],[4.1,0.03],[4.7,0.003],[15,0.002]];
var feD2Dn = [[-10,-0.02],[-7.47,-0.033],[-6.6,-0.047],[-6.1,-0.076],[-5.79,-0.104],[-5.16,-0.15],[-4.85,-0.18],[-4.53,-0.076],[-4.32,-0.06],[-3.9,-0.047],[-3.47,-0.06],[-3.05,-0.076],[-2.63,-0.06],[-2.21,-0.033],[-1.79,-0.019],[-1.15,-0.012],[-0.95,-0.076],[-0.75,-0.19],[-0.53,-0.133],[-0.3,-0.033],[0,-0.019],[1.8,-0.005],[2.4,-0.019],[2.85,-0.12],[3.05,-0.33],[3.15,-0.9],[3.7,-0.9],[3.9,-0.33],[4.1,-0.133],[4.5,-0.047],[5.15,-0.033],[6.2,-0.019],[15,-0.017]];

// LaCoO3
var coOpUp = [[-10,0.005],[-7.15,0.01],[-6.74,0.057],[-6.32,0.17],[-5.9,0.2],[-5.47,0.2],[-5.16,0.27],[-4.95,0.47],[-4.74,0.27],[-4.42,0.24],[-4.1,0.23],[-3.79,0.2],[-3.47,0.22],[-3.26,0.157],[-3.05,0.07],[-2.84,0.157],[-2.63,0.37],[-2.42,0.6],[-2.27,0.9],[-2,0.9],[-1.9,0.28],[-1.58,0.07],[-1.26,0.014],[-0.84,0.2],[-0.63,0.33],[-0.42,0.32],[-0.25,0.057],[0,0.014],[1,0.007],[2.3,0.02],[3.4,0.035],[4.4,0.043],[5.5,0.035],[6.5,0.028],[7.6,0.043],[8.4,0.085],[8.8,0.043],[9.7,0.028],[12,0.028],[12.8,0.05],[13.6,0.07],[13.9,0.028],[15,0.014]];
var coOpDn = [[-10,-0.005],[-7.15,-0.01],[-6.74,-0.043],[-6.32,-0.14],[-5.9,-0.21],[-5.47,-0.23],[-5.16,-0.28],[-4.95,-0.48],[-4.74,-0.28],[-4.42,-0.24],[-3.79,-0.23],[-3.47,-0.23],[-3.16,-0.14],[-2.95,-0.085],[-2.63,-0.37],[-2.42,-0.6],[-2.27,-0.9],[-2,-0.9],[-1.79,-0.37],[-1.47,-0.085],[-1.05,-0.043],[-0.84,-0.2],[-0.6,-0.32],[-0.4,-0.31],[-0.2,-0.085],[0,-0.028],[1,-0.01],[2.3,-0.028],[4.4,-0.057],[6.5,-0.043],[7.6,-0.057],[8.4,-0.093],[8.8,-0.043],[9.7,-0.028],[12,-0.043],[13.6,-0.078],[14.3,-0.043],[15,-0.028]];
var coLa5dUp = [[-10,0.005],[-6.74,0.028],[-5.9,0.085],[-5.47,0.085],[-5.05,0.16],[-4.63,0.17],[-3.79,0.13],[-2.95,0.057],[-2.1,0.07],[-1.68,0.028],[-1,0.007],[-0.4,0.05],[-0.2,0.005],[2.3,0.014],[3.4,0.028],[4.4,0.085],[5.05,0.16],[5.5,0.23],[6.1,0.37],[6.75,0.6],[7,0.9],[8.8,0.9],[9,0.55],[9.35,0.51],[9.6,0.55],[9.9,0.27],[10.1,0.14],[10.7,0.085],[11.8,0.064],[12.2,0.057],[12.6,0.13],[13.05,0.17],[13.35,0.14],[13.6,0.085],[13.9,0.07],[15,0.043]];
var coLa5dDn = [[-10,-0.005],[-6.74,-0.028],[-5.9,-0.085],[-5.05,-0.16],[-4.42,-0.17],[-3.79,-0.13],[-2.95,-0.057],[-2.1,-0.07],[-1.68,-0.028],[-1,-0.007],[2.3,-0.014],[3.4,-0.028],[4.4,-0.085],[5.5,-0.17],[6.1,-0.3],[6.75,-0.6],[7,-0.9],[8.8,-0.9],[9.05,-0.53],[9.35,-0.51],[9.7,-0.48],[9.9,-0.3],[10.3,-0.11],[10.9,-0.07],[11.8,-0.057],[12.6,-0.13],[13.05,-0.18],[13.5,-0.13],[13.9,-0.07],[15,-0.043]];
var coLa4fUp = [[-10,0.003],[-7,0.005],[-6,0.02],[-5,0.03],[-4,0.02],[-3,0.02],[-2,0.03],[-1,0.01],[0,0.003],[4,0.005],[6,0.014],[7.6,0.043],[8.4,0.064],[9.25,0.064],[9.9,0.1],[10.3,0.2],[10.7,0.6],[10.9,0.9],[11.4,0.9],[11.6,0.34],[11.8,0.27],[12.1,0.41],[12.4,0.9],[13.3,0.9],[13.6,0.3],[14,0.15],[15,0.07]];
var coLa4fDn = [[-10,-0.003],[-7,-0.005],[-6,-0.02],[-5,-0.03],[-4,-0.02],[-3,-0.02],[-2,-0.03],[-1,-0.01],[0,-0.003],[4,-0.005],[6,-0.014],[7.6,-0.04],[8.4,-0.07],[9.25,-0.1],[9.9,-0.14],[10.3,-0.23],[10.8,-0.44],[11,-0.9],[11.4,-0.9],[11.6,-0.4],[11.9,-0.28],[12.2,-0.4],[12.5,-0.9],[13.6,-0.9],[14,-0.23],[15,-0.13]];
var coD1Up = [[-10,0.015],[-7.6,0.015],[-6.74,0.03],[-6.32,0.085],[-5.9,0.13],[-5.47,0.14],[-5.16,0.2],[-4.84,0.3],[-4.63,0.23],[-4.31,0.185],[-3.9,0.17],[-3.37,0.085],[-2.95,0.03],[-2.7,0.14],[-2.42,0.24],[-2.1,0.17],[-1.79,0.1],[-1.47,0.04],[-1.05,0.057],[-0.84,0.3],[-0.75,0.9],[-0.1,0.9],[0,0.2],[0.42,0.014],[1,0.007],[15,0.012]];
var coD1Dn = [[-10,-0.015],[-7.6,-0.015],[-6.74,-0.03],[-6.32,-0.085],[-5.9,-0.13],[-5.47,-0.14],[-5.16,-0.18],[-4.84,-0.23],[-4.63,-0.2],[-4.31,-0.17],[-3.9,-0.156],[-3.37,-0.085],[-2.95,-0.03],[-2.7,-0.17],[-2.42,-0.23],[-2.1,-0.2],[-1.79,-0.11],[-1.47,-0.057],[-1.05,-0.07],[-0.84,-0.3],[-0.75,-0.9],[-0.1,-0.9],[0.1,-0.156],[0.42,-0.014],[1,-0.007],[15,-0.01]];
var coD2Up = [[-10,0.01],[-7.15,0.014],[-6.53,0.057],[-5.9,0.1],[-5.47,0.085],[-5.05,0.16],[-4.74,0.27],[-4.55,0.41],[-4.42,0.26],[-4.1,0.11],[-3.79,0.085],[-3.37,0.057],[-2.95,0.014],[-2.65,0.07],[-2.3,0.13],[-1.9,0.057],[-1.47,0.005],[0,0.014],[1.05,0.014],[1.26,0.057],[1.6,0.26],[1.9,0.28],[2.2,0.26],[2.53,0.26],[2.95,0.23],[3.35,0.24],[3.8,0.31],[4.1,0.27],[4.4,0.23],[4.85,0.16],[5.25,0.085],[5.7,0.014],[6.1,0.005],[15,0.005]];
var coD2Dn = [[-10,-0.01],[-7.15,-0.014],[-6.53,-0.043],[-5.9,-0.1],[-5.47,-0.085],[-5.05,-0.157],[-4.74,-0.28],[-4.55,-0.43],[-4.42,-0.28],[-4.1,-0.11],[-3.37,-0.057],[-2.95,-0.028],[-2.65,-0.085],[-2.3,-0.14],[-1.9,-0.057],[-1.26,-0.014],[0,-0.005],[1.05,-0.005],[1.26,-0.057],[1.6,-0.24],[1.9,-0.28],[2.3,-0.25],[2.95,-0.23],[3.35,-0.24],[3.8,-0.31],[4.1,-0.256],[4.4,-0.2],[4.85,-0.14],[5.25,-0.085],[5.7,-0.014],[6.1,-0.005],[15,-0.005]];

// LaNiO3
var niOpUp = [[-10,0.043],[-9,0.057],[-8.16,0.086],[-7.1,0.16],[-6.48,0.21],[-6.05,0.3],[-5.8,0.33],[-5.53,0.29],[-5.21,0.21],[-4.79,0.2],[-4.37,0.24],[-3.95,0.33],[-3.52,0.34],[-3.31,0.33],[-3.1,0.336],[-2.89,0.31],[-2.68,0.17],[-2.47,0.07],[-2.15,0.03],[-1.41,0.021],[-1.3,0.05],[-1.25,0.26],[-1.2,0.02],[-0.78,0.03],[0.27,0.043],[1.3,0.043],[2.4,0.036],[4.5,0.043],[5.1,0.057],[5.7,0.036],[6.6,0.028],[8.7,0.036],[9.77,0.05],[10.6,0.079],[11.2,0.05],[12.5,0.028],[15,0.021]];
var niOpDn = [[-10,-0.043],[-8.16,-0.086],[-7.1,-0.157],[-6.05,-0.26],[-5.8,-0.31],[-5.21,-0.23],[-4.79,-0.214],[-4.37,-0.243],[-3.95,-0.3],[-3.52,-0.32],[-3.1,-0.307],[-2.89,-0.3],[-2.68,-0.171],[-2.47,-0.071],[-2.15,-0.029],[-1.41,-0.02],[-1.3,-0.05],[-1.25,-0.25],[-1.2,-0.02],[-0.78,-0.029],[0.27,-0.036],[2.4,-0.036],[5.1,-0.057],[6.6,-0.029],[8.7,-0.036],[10.6,-0.071],[11.2,-0.05],[15,-0.021]];
var niLa5dUp = [[-10,0.014],[-8.16,0.043],[-7.1,0.07],[-6.05,0.1],[-5.74,0.13],[-5.4,0.114],[-4.79,0.07],[-3.95,0.057],[-3.1,0.07],[-2.8,0.057],[-2.47,0.029],[-2.05,0.007],[-1.3,0.03],[-1.2,0.1],[-1,0.007],[1.55,0.014],[1.95,0.057],[2.4,0.1],[3.25,0.2],[3.85,0.31],[4.5,0.54],[4.7,0.9],[7.1,0.9],[7.35,0.5],[7.6,0.29],[8.1,0.157],[8.7,0.114],[9.55,0.093],[10.2,0.14],[10.6,0.19],[11,0.14],[11.7,0.071],[12.9,0.043],[15,0.043]];
var niLa5dDn = [[-10,-0.014],[-8.16,-0.043],[-6.05,-0.1],[-5.74,-0.114],[-4.79,-0.071],[-3.95,-0.057],[-3.1,-0.071],[-2.47,-0.029],[-2.05,-0.007],[-1.3,-0.03],[-1.2,-0.1],[-1,-0.007],[1.55,-0.014],[2.4,-0.129],[3.25,-0.229],[3.85,-0.343],[4.5,-0.6],[4.7,-0.9],[7,-0.9],[7.45,-0.343],[8.1,-0.171],[8.7,-0.121],[9.55,-0.086],[10.2,-0.129],[10.6,-0.179],[11,-0.129],[11.9,-0.057],[12.9,-0.043],[15,-0.036]];
var niLa4fUp = [[-10,0.005],[-7,0.02],[-5,0.02],[-3,0.02],[-2.3,0.01],[-1.5,0.003],[4.5,0.014],[5.75,0.057],[6.4,0.07],[6.8,0.1],[7.25,0.14],[7.9,0.23],[8.3,0.31],[8.7,0.49],[9.15,0.54],[9.45,0.5],[9.75,0.55],[9.95,0.9],[11.2,0.9],[11.5,0.5],[11.8,0.3],[12.9,0.23],[13.8,0.17],[15,0.086]];
var niLa4fDn = [[-10,-0.005],[-7,-0.02],[-5,-0.02],[-3,-0.02],[-2.3,-0.01],[-1.5,-0.003],[4.5,-0.014],[5.75,-0.057],[7.25,-0.14],[7.9,-0.23],[8.3,-0.31],[8.7,-0.46],[9,-0.51],[9.35,-0.47],[9.6,-0.5],[9.8,-0.9],[11.5,-0.9],[11.8,-0.4],[12.2,-0.26],[12.9,-0.2],[13.8,-0.129],[15,-0.086]];
var niD1Up = [[-10,0.035],[-9,0.05],[-8.16,0.07],[-7.1,0.11],[-6.48,0.17],[-6.05,0.21],[-5.8,0.235],[-5.53,0.21],[-5.1,0.185],[-4.58,0.18],[-3.95,0.17],[-3.52,0.164],[-3.2,0.17],[-3,0.157],[-2.7,0.157],[-2.35,0.2],[-2.05,0.34],[-1.84,0.49],[-1.65,0.9],[-1.15,0.9],[-1,0.086],[-0.8,0.02],[0.27,0.01],[15,0.008]];
var niD1Dn = [[-10,-0.035],[-8.16,-0.07],[-7.1,-0.11],[-6.05,-0.186],[-5.8,-0.214],[-5.1,-0.179],[-3.95,-0.164],[-3.52,-0.157],[-3.1,-0.15],[-2.7,-0.143],[-2.35,-0.171],[-2.05,-0.3],[-1.84,-0.443],[-1.65,-0.9],[-1.15,-0.9],[-1,-0.057],[-0.8,-0.014],[0.27,-0.01],[15,-0.008]];
var niD2Up = [[-10,0.02],[-8.16,0.035],[-7.1,0.07],[-6.25,0.14],[-5.85,0.186],[-5.53,0.207],[-5.21,0.17],[-4.9,0.114],[-4.58,0.071],[-4.16,0.071],[-3.73,0.086],[-3.31,0.086],[-3,0.071],[-2.68,0.043],[-2.26,0.014],[-1.84,0.002],[-1.41,0.029],[-1.15,0.043],[-0.9,0.029],[-0.57,0.002],[-0.36,0.2],[-0.05,0.44],[0.17,0.34],[0.48,0.2],[0.8,0.22],[1.1,0.229],[1.5,0.2],[1.96,0.143],[2.4,0.1],[2.8,0.071],[3.44,0.057],[4.5,0.036],[6.2,0.014],[8.7,0.007],[15,0.007]];
var niD2Dn = [[-10,-0.02],[-8.16,-0.035],[-7.1,-0.07],[-6.25,-0.143],[-5.53,-0.2],[-4.9,-0.129],[-4.58,-0.071],[-3.73,-0.086],[-3,-0.071],[-2.26,-0.029],[-1.84,-0.007],[-1.41,-0.029],[-1.15,-0.043],[-0.9,-0.029],[-0.57,-0.002],[-0.36,-0.171],[-0.05,-0.43],[0.17,-0.357],[0.48,-0.186],[1.1,-0.214],[1.5,-0.186],[1.96,-0.143],[2.4,-0.1],[2.8,-0.071],[3.44,-0.057],[4.5,-0.043],[6.6,-0.021],[15,-0.01]];

// LaCuO3
var cuOpUp = [[-10,0.036],[-8.57,0.05],[-7.5,0.064],[-6.46,0.107],[-5.62,0.18],[-5.1,0.236],[-4.67,0.207],[-4.36,0.164],[-4.04,0.143],[-3.73,0.193],[-3.41,0.22],[-3.2,0.15],[-2.99,0.193],[-2.67,0.34],[-2.36,0.48],[-2.21,0.56],[-2.04,0.336],[-1.83,0.079],[-1.41,0.057],[-0.78,0.05],[-0.15,0.043],[0.7,0.036],[1.56,0.029],[1.95,0.014],[4,0.021],[5.3,0.036],[6.2,0.043],[7.2,0.057],[7.8,0.029],[9.3,0.021],[10.4,0.029],[11.4,0.079],[12,0.05],[13.5,0.029],[15,0.036]];
var cuOpDn = [[-10,-0.036],[-7.5,-0.064],[-6.46,-0.107],[-5.62,-0.179],[-5.1,-0.236],[-4.67,-0.207],[-4.36,-0.164],[-4.04,-0.143],[-3.73,-0.179],[-3.41,-0.221],[-3.2,-0.15],[-2.67,-0.35],[-2.36,-0.464],[-2.21,-0.543],[-2.04,-0.35],[-1.83,-0.093],[-1.41,-0.057],[-0.15,-0.043],[1.95,-0.021],[4,-0.029],[7.2,-0.064],[7.8,-0.036],[10.4,-0.043],[11.4,-0.079],[12,-0.057],[15,-0.036]];
var cuLa5dUp = [[-10,0.021],[-8.57,0.029],[-7.5,0.036],[-6.46,0.05],[-5.62,0.079],[-5.2,0.093],[-4.78,0.079],[-4.36,0.064],[-3.73,0.071],[-3.31,0.079],[-2.88,0.057],[-2.46,0.036],[-2.15,0.079],[-1.83,0.007],[1.1,0.007],[1.95,0.036],[3,0.136],[4.06,0.31],[4.7,0.48],[5.1,0.9],[7.2,0.9],[7.85,0.29],[8.3,0.15],[9.1,0.107],[10.1,0.079],[10.8,0.12],[11.3,0.157],[11.6,0.12],[12.5,0.057],[13.5,0.043],[15,0.036]];
var cuLa5dDn = [[-10,-0.021],[-6.46,-0.05],[-5.2,-0.093],[-4.36,-0.064],[-3.31,-0.079],[-2.46,-0.036],[-1.83,-0.007],[1.1,-0.007],[1.95,-0.036],[3,-0.136],[4.06,-0.307],[4.7,-0.479],[5,-0.9],[7.4,-0.9],[7.85,-0.293],[8.3,-0.15],[9.1,-0.093],[10.1,-0.079],[10.8,-0.107],[11.3,-0.157],[11.6,-0.121],[12.5,-0.05],[15,-0.036]];
var cuLa4fUp = [[-10,0.007],[-7,0.01],[-5,0.014],[-3.8,0.021],[-2.3,0.064],[-1.9,0.007],[0,0.003],[4,0.014],[5.3,0.036],[6.2,0.05],[7.2,0.07],[7.6,0.05],[8.3,0.107],[8.7,0.15],[9.5,0.52],[9.85,0.45],[10.1,0.5],[10.4,0.9],[12,0.9],[12.4,0.4],[13.1,0.264],[13.9,0.193],[15,0.136]];
var cuLa4fDn = [[-10,-0.007],[-7,-0.01],[-5,-0.014],[-3.8,-0.021],[-2.3,-0.036],[-1.9,-0.007],[0,-0.003],[4,-0.014],[6.2,-0.05],[7.2,-0.07],[8.3,-0.107],[8.7,-0.179],[9.3,-0.35],[9.6,-0.507],[9.85,-0.45],[10.1,-0.464],[10.3,-0.9],[12,-0.9],[12.5,-0.379],[13.1,-0.264],[13.9,-0.207],[15,-0.136]];
var cuD1Up = [[-10,0.05],[-8.57,0.071],[-7.5,0.093],[-6.46,0.15],[-5.83,0.22],[-5.41,0.32],[-5.03,0.357],[-4.67,0.31],[-4.25,0.25],[-3.94,0.257],[-3.62,0.336],[-3.35,0.364],[-3.14,0.293],[-3,0.236],[-2.78,0.336],[-2.56,0.9],[-2.04,0.9],[-1.83,0.15],[-1.62,0.064],[-1.2,0.021],[-0.57,0.01],[1,0.005],[15,0.005]];
var cuD1Dn = [[-10,-0.05],[-8.57,-0.071],[-7.5,-0.093],[-6.46,-0.15],[-5.83,-0.22],[-5.41,-0.293],[-5.03,-0.357],[-4.67,-0.307],[-4.25,-0.243],[-3.94,-0.25],[-3.62,-0.321],[-3.35,-0.364],[-3.14,-0.293],[-3,-0.243],[-2.78,-0.293],[-2.56,-0.9],[-2.04,-0.9],[-1.83,-0.15],[-1.62,-0.064],[-1.2,-0.021],[-0.57,-0.01],[1,-0.005],[15,-0.005]];
var cuD2Up = [[-10,0.036],[-8.57,0.05],[-7.5,0.064],[-6.46,0.107],[-5.83,0.164],[-5.31,0.22],[-5.03,0.264],[-4.67,0.207],[-4.25,0.15],[-3.73,0.136],[-3.41,0.179],[-3.09,0.15],[-2.67,0.193],[-2.46,0.15],[-2.04,0.136],[-1.73,0.107],[-1.41,0.079],[-0.99,0.107],[-0.57,0.136],[-0.15,0.157],[0.27,0.15],[0.8,0.121],[1.33,0.079],[1.75,0.036],[2.17,0.014],[4,0.007],[15,0.005]];
var cuD2Dn = [[-10,-0.036],[-7.5,-0.064],[-6.46,-0.107],[-5.83,-0.164],[-5.03,-0.264],[-4.67,-0.207],[-4.25,-0.15],[-3.73,-0.121],[-3.41,-0.15],[-3.09,-0.136],[-2.78,-0.179],[-2.46,-0.121],[-2.04,-0.107],[-1.73,-0.093],[-1.41,-0.064],[-0.99,-0.093],[-0.57,-0.121],[-0.15,-0.15],[0.27,-0.143],[0.8,-0.121],[1.33,-0.079],[1.75,-0.036],[2.17,-0.021],[4,-0.007],[15,-0.005]];

// ---- layout ----
var W = 396, H = 280;
var colX = [88, 484, 880];
var rowY = [36, 316, 596];

var styles = {
    la4f: { color: "#e3232c", width: 1.1, dash: "12,3,2,3" },
    la5d: { color: "#3b3b9e", width: 1.1, dash: "14,4" },
    op:   { color: "#1f6e2c", width: 1.1, dash: null },
    d1:   { color: "#4d9ec4", width: 3.2, dash: null },
    d2:   { color: "#b13a91", width: 3.2, dash: "12,4" },
    d3:   { color: "#7d5b2b", width: 3.2, dash: "14,3,3,3" }
};

var panels = [
    { name: "LaTiO", col: 1, row: 0, tx: 583, ty: 65, yLabels: [0.6, 0.4, 0.2, 0, -0.2, -0.4],
      curves: [["la4f", tiLa4fUp, tiLa4fDn], ["la5d", tiLa5dUp, tiLa5dDn], ["op", tiOpUp, tiOpDn], ["d1", tiD1Up, tiD1Dn], ["d2", tiD2Up, tiD2Dn], ["d3", tiD3Up, tiD3Dn]] },
    { name: "LaVO", col: 2, row: 0, tx: 1014, ty: 62,
      curves: [["la4f", vLa4fUp, vLa4fDn], ["la5d", vLa5dUp, vLa5dDn], ["op", vOpUp, vOpDn], ["d1", vD1Up, vD1Dn], ["d2", vD2Up, vD2Dn], ["d3", vD3Up, vD3Dn]] },
    { name: "LaCrO", col: 0, row: 1, tx: 245, ty: 345, yLabels: [0.6, 0.4, 0.2, 0, -0.2, -0.4], spin: true,
      curves: [["la4f", crLa4fUp, crLa4fDn], ["la5d", crLa5dUp, crLa5dDn], ["op", crOpUp, crOpDn], ["d1", crD1Up, crD1Dn], ["d2", crD2Up, crD2Dn]] },
    { name: "LaMnO", col: 1, row: 1, tx: 638, ty: 350,
      curves: [["la4f", mnLa4fUp, mnLa4fDn], ["la5d", mnLa5dUp, mnLa5dDn], ["op", mnOpUp, mnOpDn], ["d1", mnD1Up, mnD1Dn], ["d2", mnD2Up, mnD2Dn], ["d3", mnD3Up, mnD3Dn]] },
    { name: "LaFeO", col: 2, row: 1, tx: 1013, ty: 343,
      curves: [["la4f", feLa4fUp, feLa4fDn], ["la5d", feLa5dUp, feLa5dDn], ["op", feOpUp, feOpDn], ["d1", feD1Up, feD1Dn], ["d2", feD2Up, feD2Dn]] },
    { name: "LaCoO", col: 0, row: 2, tx: 248, ty: 629, yLabels: dosTicks, spin: true, xLabels: energyTicks,
      curves: [["la4f", coLa4fUp, coLa4fDn], ["la5d", coLa5dUp, coLa5dDn], ["op", coOpUp, coOpDn], ["d1", coD1Up, coD1Dn], ["d2", coD2Up, coD2Dn]] },
    { name: "LaNiO", col: 1, row: 2, tx: 637, ty: 627, subGap: 13, xLabels: energyTicks.slice(1),
      curves: [["la4f", niLa4fUp, niLa4fDn], ["la5d", niLa5dUp, niLa5dDn], ["op", niOpUp, niOpDn], ["d1", niD1Up, niD1Dn], ["d2", niD2Up, niD2Dn]] },
    { name: "LaCuO", col: 2, row: 2, tx: 1010, ty: 627, xLabels: energyTicks.slice(1),
      curves: [["la4f", cuLa4fUp, cuLa4fDn], ["la5d", cuLa5dUp, cuLa5dDn], ["op", cuOpUp, cuOpDn], ["d1", cuD1Up, cuD1Dn], ["d2", cuD2Up, cuD2Dn]] }
];

var svg = d3.select("#chart");
var font = '"Liberation Serif", "Times New Roman", serif';

function plain(v) { return v === 0 ? "0" : String(v); }

panels.forEach(drawPanel);
drawLegend();

svg.append("text").attr("x", 447).attr("y", 19).attr("font-size", 21).text("[1/eV]");
svg.append("text").attr("x", 52).attr("y", 297).attr("font-size", 21).text("[1/eV]");
svg.append("text").attr("x", 592).attr("y", 948).attr("font-size", 35).attr("fill", "#555").text("Energy");
svg.append("text").attr("x", 727).attr("y", 948).attr("font-size", 35).attr("fill", "#555").text("[eV]");
svg.selectAll("text").style("font-family", font);

/*
 * one DOS panel: curves, frame, inward ticks, labels
 */
function drawPanel(p, i) {
    var x0 = colX[p.col], y0 = rowY[p.row];
    var x = d3.scaleLinear().domain([-10, 15]).range([x0, x0 + W]);
    var y = d3.scaleLinear().domain([-0.6, 0.6]).range([y0 + H, y0]);

    svg.append("clipPath").attr("id", "clip" + i)
        .append("rect").attr("x", x0).attr("y", y0).attr("width", W).attr("height", H);

    var line = d3.line()
        .x(function (d) { return x(d[0]); })
        .y(function (d) { return y(d[1]); })
        .curve(d3.curveMonotoneX);

    var g = svg.append("g").attr("clip-path", "url(#clip" + i + ")");
    p.curves.forEach(function (c) {
        var st = styles[c[0]];
        [c[1], c[2]].forEach(function (data) {
            g.append("path")
                .datum(data)
                .attr("d", line)
                .attr("fill", "none")
                .attr("stroke", st.color)
                .attr("stroke-width", st.width)
                .attr("stroke-dasharray", st.dash)
                .attr("stroke-linejoin", "round");
        });
    });

    // inward ticks on all four sides
    var inner = [-5, 0, 5, 10];
    svg.append("g").attr("transform", "translate(0," + (y0 + H) + ")")
        .call(d3.axisBottom(x).tickValues(inner).tickSizeInner(-6).tickSizeOuter(0).tickFormat(""));
    svg.append("g").attr("transform", "translate(0," + y0 + ")")
        .call(d3.axisTop(x).tickValues(inner).tickSizeInner(-6).tickSizeOuter(0).tickFormat(""));
    svg.append("g").attr("transform", "translate(" + x0 + ",0)")
        .call(d3.axisLeft(y).tickValues(dosTicks).tickSizeInner(-6).tickSizeOuter(0).tickFormat(""));
    svg.append("g").attr("transform", "translate(" + (x0 + W) + ",0)")
        .call(d3.axisRight(y).tickValues(dosTicks).tickSizeInner(-6).tickSizeOuter(0).tickFormat(""));
    svg.selectAll(".domain").remove();

    svg.append("rect")
        .attr("x", x0).attr("y", y0).attr("width", W).attr("height", H)
        .attr("fill", "none").attr("stroke", "#000").attr("stroke-width", 1.8);

    if (p.yLabels) {
        var ya = svg.append("g").attr("transform", "translate(" + x0 + ",0)")
            .call(d3.axisLeft(y).tickValues(p.yLabels).tickSize(0).tickPadding(4).tickFormat(plain));
        ya.select(".domain").remove();
        ya.attr("font-family", null);
        ya.selectAll("text").attr("font-size", 24).attr("fill", "#000")
            .attr("dy", "0.33em")
            .attr("x", function (v) { return v === 0 ? -11 : -4; });
    }
    if (p.xLabels) {
        var xa = svg.append("g").attr("transform", "translate(0," + (y0 + H) + ")")
            .call(d3.axisBottom(x).tickValues(p.xLabels).tickSize(0).tickPadding(11).tickFormat(plain));
        xa.select(".domain").remove();
        xa.attr("font-family", null);
        xa.selectAll("text").attr("font-size", 24).attr("fill", "#000");
    }
    if (p.spin) {
        svg.append("text").attr("transform", "translate(39," + (y0 + 70) + ") rotate(-90)")
            .attr("text-anchor", "middle").attr("font-size", 22).text("Majority spin");
        svg.append("text").attr("transform", "translate(39," + (y0 + 215) + ") rotate(-90)")
            .attr("text-anchor", "middle").attr("font-size", 22).text("Minority spin");
    }

    var t = svg.append("text").attr("x", p.tx).attr("y", p.ty).attr("font-size", 33);
    t.append("tspan").text(p.name);
    t.append("tspan").attr("font-size", 25).attr("dy", 7).attr("dx", p.subGap || 0).text("3");
}

/*
 * legend box in the empty top-left cell
 */
function drawLegend() {
    var lg = svg.append("g");
    lg.append("rect").attr("x", 8).attr("y", 3).attr("width", 427).attr("height", 272)
        .attr("fill", "#fafaf8").attr("stroke", "#707070").attr("stroke-width", 3);

    var samples = [
        ["d1", 21, 72, 27], ["d2", 21, 72, 57], ["d3", 21, 72, 88],
        ["d1", 21, 72, 122], ["d2", 21, 72, 153], ["d3", 21, 72, 184],
        ["d1", 18, 69, 224], ["d2", 18, 69, 254],
        ["op", 305, 355, 29], ["la5d", 307, 357, 54], ["la4f", 307, 357, 83]
    ];
    samples.forEach(function (s) {
        var st = styles[s[0]];
        lg.append("line").attr("x1", s[1]).attr("x2", s[2]).attr("y1", s[3]).attr("y2", s[3])
            .attr("stroke", st.color).attr("stroke-width", st.width)
            .attr("stroke-dasharray", st.dash);
    });

    var labels = [
        ["Ti-yz-zx", 95, 31], ["V-yz,zx", 209, 31], ["O-p", 375, 37],
        ["Ti-yz+zx,xy", 99, 62], ["V-xy", 212, 62], ["La-5d", 375, 63],
        ["Ti-eg", 102, 93], ["V-eg", 217, 95], ["La-4f", 376, 91],
        ["Cr-t2g", 94, 129], ["Mn-t2g", 187, 132], ["Fe-t2g", 318, 132],
        ["Cr-eg", 97, 158], ["Mn-3z^2-r^2", 184, 157], ["Fe-eg", 318, 160],
        ["Mn-x^2-y^2", 184, 192],
        ["Co-t2g", 98, 232], ["Ni-t2g", 185, 233], ["Cu-t2g", 252, 233],
        ["Co-eg", 100, 258], ["Ni-eg", 185, 260], ["Cu-eg", 257, 260]
    ];
    lg.selectAll("text.leg").data(labels).enter().append("text")
        .attr("class", "leg")
        .attr("x", function (d) { return d[1]; })
        .attr("y", function (d) { return d[2]; })
        .attr("font-size", 21)
        .text(function (d) { return d[0]; });
}
</script>
</body>
</html>
